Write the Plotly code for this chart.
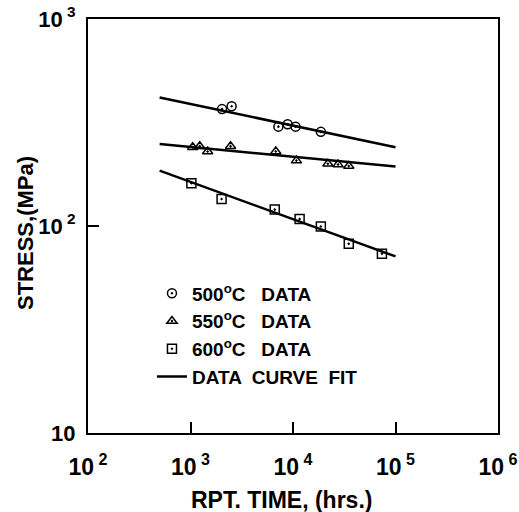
import plotly.graph_objects as go

# 500 C data
t500 = [2030, 2520, 7200, 8870, 10600, 18700]
s500 = [367, 379, 302, 310, 302, 285]
# 550 C data
t550 = [1050, 1230, 1470, 2460, 6790, 10800, 21900, 27500, 35000]
s550 = [240, 243, 229, 243, 229, 207, 200, 198, 195]
# 600 C data
t600 = [1020, 2010, 6640, 11600, 18700, 35000, 73700]
s600 = [161, 135, 120, 108, 99.5, 82, 73.5]
# curve fits (end points)
fit_t = [500, 100000]
fit500 = [418, 240]
fit550 = [249, 194]
fit600 = [185, 71.3]

x_tickvals = [100, 1000, 10000, 100000, 1000000]
x_ticktext = ["10<sup> 2</sup>", "10<sup> 3</sup>", "10<sup> 4</sup>", "10<sup> 5</sup>", "10<sup> 6</sup>"]
y_tickvals = [10, 100, 1000]
y_ticktext = ["10", "10<sup> 2</sup>", "10<sup> 3</sup>"]
x_title = "RPT. TIME, (hrs.)"
y_title = "STRESS,(MPa)"

FONT = "Liberation Sans"
fig = go.Figure()

for i, fy in enumerate([fit500, fit550, fit600]):
    fig.add_trace(go.Scatter(
        x=fit_t, y=fy, mode="lines",
        line=dict(color="black", width=2.5),
        name="DATA  CURVE  FIT", showlegend=(i == 0), legendrank=4, legendgroup="fit",
    ))

mk = dict(color="black", size=9, line=dict(width=1.5, color="black"))
fig.add_trace(go.Scatter(x=t500, y=s500, mode="markers", name="500<sup>o</sup>C   DATA",
                         marker=dict(symbol="circle-open-dot", **mk), legendrank=1, legendgroup="a"))
fig.add_trace(go.Scatter(x=t550, y=s550, mode="markers", name="550<sup>o</sup>C   DATA",
                         marker=dict(symbol="triangle-up-open-dot", **mk), legendrank=2, legendgroup="b"))
fig.add_trace(go.Scatter(x=t600, y=s600, mode="markers", name="600<sup>o</sup>C   DATA",
                         marker=dict(symbol="square-open-dot", **mk), legendrank=3, legendgroup="c"))

fig.update_layout(
    width=519, height=512,
    margin=dict(l=88, r=21, t=19, b=79),
    paper_bgcolor="white", plot_bgcolor="white",
    font=dict(family=FONT, color="black", size=18, weight="bold"),
    showlegend=True,
    legend=dict(x=0.156, y=0.383, xanchor="left", yanchor="top", traceorder="grouped",
                tracegroupgap=0,
                bgcolor="rgba(0,0,0,0)", font=dict(size=19, family=FONT, weight="bold")),
    annotations=[
        dict(text=x_title, xref="paper", yref="paper", x=(281 - 88) / 410, y=(433 - 500) / 414,
             xanchor="center", yanchor="middle", showarrow=False,
             font=dict(size=23, family=FONT, weight="bold")),
        dict(text=y_title, xref="paper", yref="paper", x=(25 - 88) / 410, y=(433 - 233) / 414,
             xanchor="center", yanchor="middle", showarrow=False, textangle=-90,
             font=dict(size=22, family=FONT, weight="bold")),
    ],
)
fig.update_xaxes(
    type="log", range=[2, 6], automargin=False,
    tickvals=x_tickvals, ticktext=x_ticktext,
    ticks="inside", ticklen=11, tickwidth=1.5, tickcolor="black",
    showline=True, linewidth=2, linecolor="black", mirror=True,
    showgrid=False, zeroline=False,
    tickfont=dict(size=23, family=FONT, weight="bold"),
    ticklabelstandoff=12, ticklabeloverflow="allow",
)
fig.update_yaxes(
    type="log", range=[1, 3], automargin=False,
    tickvals=y_tickvals, ticktext=y_ticktext,
    ticks="inside", ticklen=11, tickwidth=1.5, tickcolor="black",
    showline=True, linewidth=2, linecolor="black", mirror=True,
    showgrid=False, zeroline=False,
    tickfont=dict(size=22, family=FONT, weight="bold"),
    ticklabelstandoff=6, ticklabeloverflow="allow",
)

fig.write_html("out.html", config={"displayModeBar": False},
               post_script="document.body.style.margin='0px';")
